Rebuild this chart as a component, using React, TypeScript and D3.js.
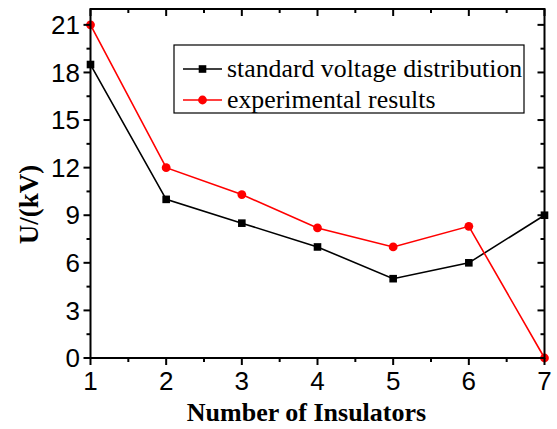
import * as d3 from "d3";

// chart values
const insulators = [1, 2, 3, 4, 5, 6, 7];
const standardVoltage = [18.5, 10, 8.5, 7, 5, 6, 9];
const experimentalResults = [21, 12, 10.3, 8.2, 7, 8.3, 0];
const yTicks = [0, 3, 6, 9, 12, 15, 18, 21];
const xTicks = [1, 2, 3, 4, 5, 6, 7];
const legendLabels = ["standard voltage distribution", "experimental results"];

const width = 557,
    height = 429;
const margin = { top: 9, right: 12.5, bottom: 71, left: 90.5 };

const sans = "'Liberation Sans', Arial, sans-serif";
const serif = "'Liberation Serif', 'Times New Roman', serif";

export default function App() {
    const x = d3.scaleLinear().domain([1, 7]).range([margin.left, width - margin.right]);
    const y = d3.scaleLinear().domain([0, 22]).range([height - margin.bottom, margin.top]);

    const line = d3.line<number>()
        .x((d, i) => x(insulators[i]))
        .y((d) => y(d));

    const x0 = margin.left,
        x1 = width - margin.right,
        y0 = height - margin.bottom,
        y1 = margin.top;

    const xMinor = d3.range(1.5, 7, 1);
    const yMinor = d3.range(1.5, 22, 3);

    return (
        <svg width={width} height={height} style={{ position: "fixed", left: 0, top: 0, background: "#fff" }}>
            {/* data lines */}
            <path d={line(standardVoltage) ?? ""} fill="none" stroke="#000" strokeWidth={1.6} />
            <path d={line(experimentalResults) ?? ""} fill="none" stroke="#ff0000" strokeWidth={1.6} />
            {standardVoltage.map((v, i) => (
                <rect key={"s" + i} x={x(insulators[i]) - 3.8} y={y(v) - 3.8} width={7.6} height={7.6} fill="#000" />
            ))}
            {experimentalResults.map((v, i) => (
                <circle key={"e" + i} cx={x(insulators[i])} cy={y(v)} r={4.4} fill="#ff0000" />
            ))}

            {/* frame */}
            <rect x={x0} y={y1} width={x1 - x0} height={y0 - y1} fill="none" stroke="#000" strokeWidth={2} />

            {/* bottom + top ticks */}
            {xTicks.map((t) => (
                <g key={"xt" + t}>
                    <line x1={x(t)} x2={x(t)} y1={y0} y2={y0 + 7} stroke="#000" strokeWidth={2} />
                    <line x1={x(t)} x2={x(t)} y1={y1} y2={y1 + 7} stroke="#000" strokeWidth={2} />
                    <text x={x(t)} y={390} textAnchor="middle" fontFamily={sans} fontSize={26}>{t}</text>
                </g>
            ))}
            {xMinor.map((t) => (
                <g key={"xm" + t}>
                    <line x1={x(t)} x2={x(t)} y1={y0} y2={y0 + 4} stroke="#000" strokeWidth={2} />
                    <line x1={x(t)} x2={x(t)} y1={y1} y2={y1 + 4} stroke="#000" strokeWidth={2} />
                </g>
            ))}

            {/* left + right ticks */}
            {yTicks.map((t) => (
                <g key={"yt" + t}>
                    <line x1={x0 - 7} x2={x0} y1={y(t)} y2={y(t)} stroke="#000" strokeWidth={2} />
                    <line x1={x1 - 7} x2={x1} y1={y(t)} y2={y(t)} stroke="#000" strokeWidth={2} />
                    <text x={x0 - 10.5} y={y(t)} dy="0.35em" textAnchor="end" fontFamily={sans} fontSize={26}>{t}</text>
                </g>
            ))}
            {yMinor.map((t) => (
                <g key={"ym" + t}>
                    <line x1={x0 - 4} x2={x0} y1={y(t)} y2={y(t)} stroke="#000" strokeWidth={2} />
                    <line x1={x1 - 4} x2={x1} y1={y(t)} y2={y(t)} stroke="#000" strokeWidth={2} />
                </g>
            ))}

            {/* axis titles */}
            <text x={(x0 + x1) / 2 - 11} y={421} textAnchor="middle" fontFamily={serif} fontWeight="bold" fontSize={26}>
                Number of Insulators
            </text>
            <text transform={`translate(38, ${(y0 + y1) / 2 + 21}) rotate(-90)`} textAnchor="middle" fontFamily={serif} fontWeight="bold" fontSize={27}>
                U/(kV)
            </text>

            {/* legend */}
            <g transform="translate(174, 45)">
                <rect x={0} y={0} width={350} height={68} fill="#fff" stroke="#000" strokeWidth={1.2} />
                {legendLabels.map((label, i) => (
                    <g key={label} transform={`translate(0, ${24 + i * 31})`}>
                        <line x1={9} x2={48} y1={0} y2={0} stroke={i === 0 ? "#000" : "#ff0000"} strokeWidth={1.6} />
                        {i === 0
                            ? <rect x={24.7} y={-3.8} width={7.6} height={7.6} fill="#000" />
                            : <circle cx={28.5} cy={0} r={4.4} fill="#ff0000" />}
                        <text x={53} y={0} dy="0.3em" fontFamily={serif} fontSize={25.8}>{label}</text>
                    </g>
                ))}
            </g>
        </svg>
    );
}
